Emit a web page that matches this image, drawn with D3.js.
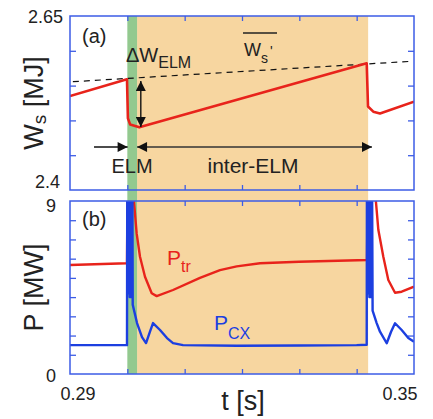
<!DOCTYPE html>
<html>
<head>
<meta charset="utf-8">
<script src="https://cdn.jsdelivr.net/npm/d3@7"></script>
<style>
  body { margin: 0; background: #fff; }
  text { font-family: "Liberation Sans", Arial, Helvetica, sans-serif; fill: #222; }
</style>
</head>
<body>
<svg width="433" height="419"></svg>
<script>
// ---- data ----
// stored energy W_s [MJ]
var tW = [0.29, 0.29994, 0.3001, 0.3005, 0.30209, 0.34175, 0.34198, 0.3429, 0.34407, 0.35];
var W  = [2.535, 2.559, 2.503, 2.494, 2.490, 2.582, 2.520, 2.5125, 2.510, 2.527];
// dashed trend (W_s' average)
var tDash = [0.2905, 0.3493];
var wDash = [2.5556, 2.5848];

// transported power P_tr [MW]
var tPtr = [0.29, 0.29994, 0.3001, 0.3009, 0.30115, 0.30163, 0.30221, 0.30308, 0.30425, 0.30512,
            0.30797, 0.31267, 0.31616, 0.31908, 0.32314, 0.32994, 0.3418, 0.342, 0.3431, 0.34335,
            0.34378, 0.34465, 0.34552, 0.34669, 0.34785, 0.35];
var Ptr  = [5.67, 5.76, 12, 10.5, 9.0, 7.3, 6.1, 5.06, 4.2, 4.05,
            4.37, 5.0, 5.4, 5.6, 5.76, 5.84, 5.93, 12, 10, 9.0,
            7.5, 6.1, 4.89, 4.23, 4.28, 4.54];

// charge-exchange loss P_CX [MW] (the ELM bursts are dense oscillations)
var tPcx = [0.29, 0.29994, 0.3000, 0.30006, 0.30012, 0.30018, 0.30024, 0.3003, 0.30036, 0.30042,
            0.30048, 0.30054, 0.3006, 0.30066, 0.30072, 0.30078, 0.30086,
            0.30094, 0.30169, 0.30256, 0.30326, 0.30395, 0.30448, 0.3057, 0.30692, 0.30797, 0.30971,
            0.3191, 0.33, 0.34, 0.34175, 0.3418, 0.34186, 0.34192, 0.34198, 0.34204, 0.3421,
            0.34216, 0.34222, 0.34228, 0.34234, 0.3424, 0.34246, 0.34252, 0.34258, 0.34266,
            0.34278, 0.34349, 0.34407, 0.34524, 0.346, 0.34669, 0.34785, 0.34901, 0.35];
var Pcx  = [1.5, 1.5, 12, 4.5, 12, 4.2, 12, 4.4, 12, 4.0,
            12, 4.3, 12, 4.0, 12, 4.2, 12,
            3.6, 2.65, 1.92, 1.61, 2.2, 2.65, 2.29, 1.87, 1.61, 1.5,
            1.47, 1.48, 1.5, 1.52, 12, 4.5, 12, 4.2, 12, 4.4,
            12, 4.0, 12, 4.3, 12, 4.0, 12, 4.2, 12,
            3.3, 2.65, 2.2, 1.6, 2.2, 2.64, 2.29, 1.87, 1.68];

// time windows
var elmWindow   = [0.3000, 0.3017];
var interWindow = [0.3017, 0.3420];

// ticks
var tTicks = [0.30, 0.31, 0.32, 0.33, 0.34];
var wTicks = [2.45, 2.5, 2.55, 2.6];
var pTicks = [1, 2, 3, 4, 5, 6, 7, 8];
var tTickLabels = ["0.29", "0.35"];
var wTickLabels = ["2.4", "2.65"];
var pTickLabels = ["0", "9"];

// ---- drawing ----
var svg = d3.select('svg');
var frameColor = "#3d5ce6";
var red = "#e8231b";
var blue = "#1c3fe0";

var x = d3.scaleLinear().domain([0.29, 0.35]).range([70, 414]);
var yW = d3.scaleLinear().domain([2.4, 2.65]).range([190, 16]);
var yP = d3.scaleLinear().domain([0, 9]).range([374, 201]);

var defs = svg.append('defs');
defs.append('clipPath').attr('id', 'clipA').append('rect')
    .attr('x', 70).attr('y', 16).attr('width', 344).attr('height', 174);
defs.append('clipPath').attr('id', 'clipB').append('rect')
    .attr('x', 70).attr('y', 201).attr('width', 344).attr('height', 173);

// arrow head
defs.append('marker')
    .attr('id', 'head')
    .attr('viewBox', '0 0 10 10')
    .attr('refX', 10).attr('refY', 5)
    .attr('markerUnits', 'userSpaceOnUse')
    .attr('markerWidth', 11).attr('markerHeight', 10)
    .attr('orient', 'auto-start-reverse')
    .append('path').attr('d', 'M0,0 L10,5 L0,10 Z').attr('fill', '#111');

// shaded bands across both panels
svg.append('rect')
    .attr('x', x(interWindow[0])).attr('y', 16)
    .attr('width', x(interWindow[1]) - x(interWindow[0]))
    .attr('height', 374 - 16)
    .attr('fill', '#f7d6a0');
svg.append('rect')
    .attr('x', x(elmWindow[0])).attr('y', 16)
    .attr('width', x(elmWindow[1]) - x(elmWindow[0]))
    .attr('height', 374 - 16)
    .attr('fill', '#93c98f');

function ticks(g, axis) { g.call(axis); g.select('.domain').remove(); g.selectAll('line').attr('stroke', frameColor).attr('stroke-width', 1.3); }

// panel frames + inward ticks
[[yW, 16, 190, wTicks], [yP, 201, 374, pTicks]].forEach(function(p) {
    var ys = p[0];
    svg.append('g').attr('transform', 'translate(70,0)')
        .call(ticks, d3.axisLeft(ys).tickValues(p[3]).tickSize(-6).tickFormat(''));
    svg.append('g').attr('transform', 'translate(414,0)')
        .call(ticks, d3.axisRight(ys).tickValues(p[3]).tickSize(-6).tickFormat(''));
    svg.append('g').attr('transform', 'translate(0,' + p[1] + ')')
        .call(ticks, d3.axisTop(x).tickValues(tTicks).tickSize(-5).tickFormat(''));
    svg.append('g').attr('transform', 'translate(0,' + p[2] + ')')
        .call(ticks, d3.axisBottom(x).tickValues(tTicks).tickSize(-5).tickFormat(''));
});

// ---- panel (a) ----
var ga = svg.append('g').attr('clip-path', 'url(#clipA)');
ga.append('path')
    .datum(d3.range(tDash.length))
    .attr('fill', 'none').attr('stroke', '#111').attr('stroke-width', 1.2)
    .attr('stroke-dasharray', '6,5')
    .attr('d', d3.line().x(function(i) { return x(tDash[i]); }).y(function(i) { return yW(wDash[i]); }));
ga.append('path')
    .datum(d3.range(tW.length))
    .attr('fill', 'none').attr('stroke', red).attr('stroke-width', 2.6)
    .attr('stroke-linejoin', 'round')
    .attr('d', d3.line().x(function(i) { return x(tW[i]); }).y(function(i) { return yW(W[i]); }));

// arrows
svg.append('line')
    .attr('x1', x(0.30235)).attr('x2', x(0.30235))
    .attr('y1', yW(2.5567)).attr('y2', yW(2.4905))
    .attr('stroke', '#111').attr('stroke-width', 1.4)
    .attr('marker-start', 'url(#head)').attr('marker-end', 'url(#head)');
svg.append('line')
    .attr('x1', x(0.29419)).attr('x2', x(0.30005))
    .attr('y1', yW(2.4618)).attr('y2', yW(2.4618))
    .attr('stroke', '#111').attr('stroke-width', 1.4)
    .attr('marker-end', 'url(#head)');
svg.append('line')
    .attr('x1', x(elmWindow[1])).attr('x2', x(0.34267))
    .attr('y1', yW(2.4618)).attr('y2', yW(2.4618))
    .attr('stroke', '#333').attr('stroke-width', 1.4)
    .attr('marker-start', 'url(#head)').attr('marker-end', 'url(#head)');

// ---- panel (b) ----
var gb = svg.append('g').attr('clip-path', 'url(#clipB)');
gb.append('path')
    .datum(d3.range(tPtr.length))
    .attr('fill', 'none').attr('stroke', red).attr('stroke-width', 2.4)
    .attr('stroke-linejoin', 'round')
    .attr('d', d3.line().x(function(i) { return x(tPtr[i]); }).y(function(i) { return yP(Ptr[i]); }));
gb.append('path')
    .datum(d3.range(tPcx.length))
    .attr('fill', 'none').attr('stroke', blue).attr('stroke-width', 2.4)
    .attr('stroke-linejoin', 'round')
    .attr('d', d3.line().x(function(i) { return x(tPcx[i]); }).y(function(i) { return yP(Pcx[i]); }));

// frames on top
svg.append('rect').attr('x', 70).attr('y', 16).attr('width', 344).attr('height', 174)
    .attr('fill', 'none').attr('stroke', frameColor).attr('stroke-width', 1.5);
svg.append('rect').attr('x', 70).attr('y', 201).attr('width', 344).attr('height', 173)
    .attr('fill', 'none').attr('stroke', frameColor).attr('stroke-width', 1.5);

// ---- tick labels ----
svg.append('text').attr('x', 60).attr('y', yW(2.4) - 2).attr('text-anchor', 'end')
    .style('font-size', '18px').text(wTickLabels[0]);
svg.append('text').attr('x', 63).attr('y', yW(2.65) + 7).attr('text-anchor', 'end')
    .style('font-size', '18px').text(wTickLabels[1]);
svg.append('text').attr('x', 56).attr('y', yP(0) + 8).attr('text-anchor', 'end')
    .style('font-size', '18px').text(pTickLabels[0]);
svg.append('text').attr('x', 56).attr('y', yP(9) + 11).attr('text-anchor', 'end')
    .style('font-size', '18px').text(pTickLabels[1]);
svg.append('text').attr('x', x(0.29) + 8).attr('y', 400).attr('text-anchor', 'middle')
    .style('font-size', '18px').text(tTickLabels[0]);
svg.append('text').attr('x', x(0.35) - 14).attr('y', 400).attr('text-anchor', 'middle')
    .style('font-size', '18px').text(tTickLabels[1]);

// ---- axis titles ----
var wt = svg.append('text').attr('transform', 'translate(43,' + yW(2.525) + ') rotate(-90)')
    .attr('text-anchor', 'middle').style('font-size', '27px');
wt.append('tspan').text('W');
wt.append('tspan').attr('dy', 3).style('font-size', '19px').text('s');
wt.append('tspan').attr('dy', -3).text(' [MJ]');

svg.append('text').attr('transform', 'translate(43,' + yP(4.5) + ') rotate(-90)')
    .attr('text-anchor', 'middle').style('font-size', '27px').text('P [MW]');

svg.append('text').attr('x', 243).attr('y', 410).attr('text-anchor', 'middle')
    .style('font-size', '27px').text('t [s]');

// ---- annotations ----
svg.append('text').attr('x', 82).attr('y', 43).style('font-size', '20px').text('(a)');
svg.append('text').attr('x', 82).attr('y', 226).style('font-size', '20px').text('(b)');

var dw = svg.append('text').attr('x', 126).attr('y', 62).style('font-size', '20px');
dw.append('tspan').text('\u0394W');
dw.append('tspan').attr('dy', 6).style('font-size', '16px').text('ELM');

var ws = svg.append('text').attr('x', 244).attr('y', 56).style('font-size', '18px');
ws.append('tspan').text('W');
ws.append('tspan').attr('dy', 7).style('font-size', '14px').text('s');
ws.append('tspan').attr('dy', -7).attr('dx', 2).style('font-size', '14px').text("'");
svg.append('line').attr('x1', 243).attr('x2', 277).attr('y1', 33).attr('y2', 33)
    .attr('stroke', '#222').attr('stroke-width', 1.3);

svg.append('text').attr('x', 132).attr('y', 173).attr('text-anchor', 'middle')
    .style('font-size', '20px').text('ELM');
svg.append('text').attr('x', 253).attr('y', 173).attr('text-anchor', 'middle')
    .style('font-size', '21px').text('inter-ELM');

var pt = svg.append('text').attr('x', 167).attr('y', 265).style('font-size', '21px').style('fill', red);
pt.append('tspan').text('P');
pt.append('tspan').attr('dy', 7).style('font-size', '16px').text('tr');

var pc = svg.append('text').attr('x', 214).attr('y', 330).style('font-size', '21px').style('fill', blue);
pc.append('tspan').text('P');
pc.append('tspan').attr('dy', 9).style('font-size', '16px').text('CX');
</script>
</body>
</html>
